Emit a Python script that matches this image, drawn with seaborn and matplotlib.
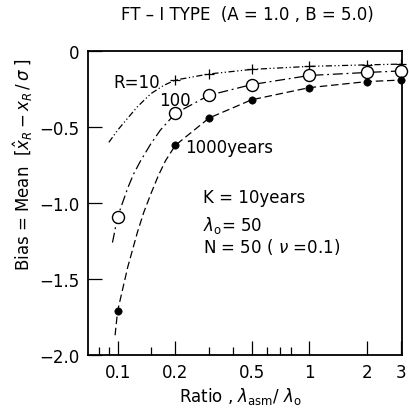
import numpy as np
import pandas as pd
import matplotlib
matplotlib.use("Agg")
import matplotlib.pyplot as plt
import seaborn as sns
from matplotlib.ticker import FixedLocator, NullFormatter

# ---- data ----
ratio_pts = [0.1, 0.2, 0.3, 0.5, 1.0, 2.0, 3.0]
r10_pts_x = [0.2, 0.3, 0.5, 1.0, 2.0, 3.0]
r10_pts_y = [-0.19, -0.15, -0.12, -0.10, -0.09, -0.085]
r100_pts_y = [-1.09, -0.41, -0.29, -0.22, -0.16, -0.14, -0.13]
r1000_pts_y = [-1.71, -0.62, -0.44, -0.32, -0.24, -0.20, -0.19]

# curve traces
r10_curve_x = [0.09, 0.1, 0.113, 0.127, 0.149, 0.174, 0.2, 0.3, 0.5, 1.0, 2.0, 3.0]
r10_curve_y = [-0.60, -0.52, -0.44, -0.365, -0.28, -0.225, -0.19, -0.15, -0.12, -0.10, -0.09, -0.085]
r100_curve_x = [0.094, 0.1, 0.113, 0.121, 0.132, 0.149, 0.167, 0.2, 0.3, 0.5, 1.0, 2.0, 3.0]
r100_curve_y = [-1.26, -1.09, -0.90, -0.81, -0.72, -0.61, -0.52, -0.41, -0.29, -0.22, -0.16, -0.14, -0.13]
r1000_curve_x = [0.097, 0.1, 0.113, 0.127, 0.137, 0.149, 0.163, 0.178, 0.2, 0.3, 0.5, 1.0, 2.0, 3.0]
r1000_curve_y = [-1.87, -1.71, -1.42, -1.19, -1.06, -0.94, -0.82, -0.72, -0.62, -0.44, -0.32, -0.24, -0.20, -0.19]

major_ticks = [0.1, 0.2, 0.5, 1, 2, 3]
major_labels = ["0.1", "0.2", "0.5", "1", "2", "3"]
minor_ticks = [0.08, 0.09, 0.15, 0.3, 0.4, 0.6, 0.7, 0.8]
y_ticks = [0, -0.5, -1.0, -1.5, -2.0]
y_labels = ["0", "\u22120.5", "\u22121.0", "\u22121.5", "\u22122.0"]

sns.set_style("ticks")
plt.rcParams["font.family"] = ["DejaVu Sans"]
plt.rcParams["mathtext.fontset"] = "dejavusans"
plt.rcParams["text.color"] = "black"
plt.rcParams["xtick.color"] = "black"
plt.rcParams["ytick.color"] = "black"
plt.rcParams["axes.labelcolor"] = "black"
plt.rcParams["axes.edgecolor"] = "black"

fig = plt.figure(figsize=(4.09, 4.10), dpi=100)
ax = fig.add_axes([0.215, 0.1317, 0.768, 0.741])
ax.set_xscale("log")

curves = [
    (r10_curve_x, r10_curve_y, (0, (5, 2, 1, 2, 1, 2))),
    (r100_curve_x, r100_curve_y, (0, (8, 3, 1.5, 3))),
    (r1000_curve_x, r1000_curve_y, (0, (6, 3))),
]
for cx, cy, ls in curves:
    df = pd.DataFrame({"x": cx, "y": cy})
    sns.lineplot(data=df, x="x", y="y", ax=ax, color="black", linewidth=0.9,
                 linestyle=ls, sort=False, estimator=None)

sns.scatterplot(x=r10_pts_x, y=r10_pts_y, ax=ax, marker="+", s=60, color="black",
                linewidth=0.9, clip_on=False, zorder=5)
sns.scatterplot(x=ratio_pts, y=r100_pts_y, ax=ax, marker="o", s=75, facecolor="white",
                edgecolor="black", linewidth=1.0, clip_on=False, zorder=6)
sns.scatterplot(x=ratio_pts, y=r1000_pts_y, ax=ax, marker="o", s=28, color="black",
                edgecolor="black", clip_on=False, zorder=6)

ax.set_xlim(0.07, 3.05)
ax.set_ylim(-2.0, 0.0)
ax.xaxis.set_major_locator(FixedLocator(major_ticks))
ax.set_xticklabels(major_labels)
ax.xaxis.set_minor_locator(FixedLocator(minor_ticks))
ax.xaxis.set_minor_formatter(NullFormatter())
ax.set_yticks(y_ticks)
ax.set_yticklabels(y_labels)
ax.tick_params(axis="both", which="major", direction="in", length=10, width=0.9,
               labelsize=12, pad=6, colors="black")
ax.tick_params(axis="x", which="minor", direction="in", length=6, width=0.9, colors="black")
ax.set_xlabel("")
ax.set_ylabel("")
for sp in ax.spines.values():
    sp.set_visible(True)
    sp.set_linewidth(1.3)
    sp.set_color("black")

ax.text(0.167, -0.20, "R=10", ha="right", va="center", fontsize=12, color="black")
ax.text(0.165, -0.32, "100", ha="left", va="center", fontsize=12, color="black")
ax.text(0.226, -0.63, "1000years", ha="left", va="center", fontsize=12, color="black")
ax.text(0.28, -0.96, "K = 10years", ha="left", va="center", fontsize=12, color="black")
ax.text(0.28, -1.14, r"$\lambda_{\rm o}$= 50", ha="left", va="center", fontsize=12, color="black")
ax.text(0.28, -1.28, r"N = 50 ( $\nu$ =0.1)", ha="left", va="center", fontsize=12, color="black")

fig.text(0.604, 0.963, "FT \u2013 I TYPE  (A = 1.0 , B = 5.0)", ha="center", va="center",
         fontsize=12, color="black")
fig.text(0.056, 0.598, r"Bias = Mean  [$\hat{x}_R - x_R\,/\,\sigma$ ]", ha="center", va="center",
         rotation=90, fontsize=12, color="black")
fig.text(0.589, 0.032, r"Ratio , $\lambda_{\rm asm}$/ $\lambda_{\rm o}$", ha="center", va="center",
         fontsize=12, color="black")

fig.savefig("out.png", dpi=100)
